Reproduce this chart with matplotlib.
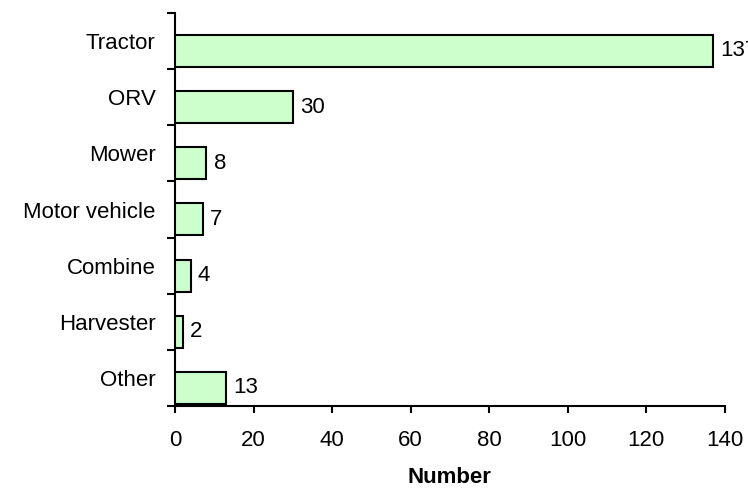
import matplotlib
matplotlib.use('Agg')
import matplotlib.pyplot as plt
import numpy as np

plt.rcParams['font.family'] = ['Liberation Sans', 'DejaVu Sans']

# 数据
categories = ['Tractor', 'ORV', 'Mower', 'Motor vehicle', 'Combine', 'Harvester', 'Other']
counts = [137, 30, 8, 7, 4, 2, 13]

fig = plt.figure(figsize=(7.48, 4.91), dpi=100)
ax = fig.add_axes([0.234, 0.173, 0.735, 0.8005])

y = np.arange(len(categories))
bar_off = 0.175
ax.barh(y + bar_off, counts, height=0.57, color='#ccffcc',
        edgecolor='black', linewidth=1.5, zorder=3)

# 数值标注（Tractor 的标签超出画布被裁掉，与原图一致）
for yi, v in zip(y, counts):
    ax.text(v + 1.8, yi + bar_off, f'{v}', ha='left', va='center',
            fontsize=16, color='black', clip_on=False)

ax.set_xlim(0, 140)
ax.set_xticks(np.arange(0, 141, 20))
ax.set_ylim(len(categories) - 0.5, -0.5)
ax.set_yticks(y)
ax.set_yticklabels(categories, fontsize=16)
ax.set_yticks(np.arange(-0.5, len(categories)), minor=True)
ax.tick_params(axis='y', which='major', length=0, pad=14)
ax.tick_params(axis='y', which='minor', direction='out', length=6, width=1.5)
ax.tick_params(axis='x', direction='out', length=5, width=1.5, labelsize=16, pad=12)

for s in ['top', 'right']:
    ax.spines[s].set_visible(False)
for s in ['left', 'bottom']:
    ax.spines[s].set_linewidth(1.5)

ax.set_xlabel('Number', fontsize=16, fontweight='bold', labelpad=12)

fig.savefig('out.png', dpi=100, facecolor='white')
